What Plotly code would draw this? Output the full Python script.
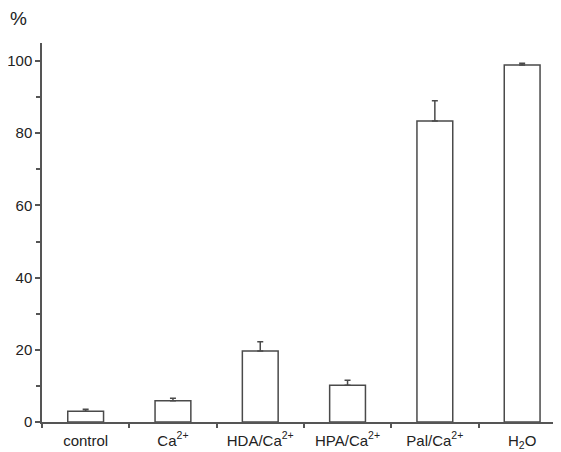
import plotly.graph_objects as go

categories = ["control", "Ca<sup>2+</sup>", "HDA/Ca<sup>2+</sup>", "HPA/Ca<sup>2+</sup>", "Pal/Ca<sup>2+</sup>", "H<sub>2</sub>O"]
values = [3.0, 5.9, 19.7, 10.2, 83.4, 98.9]
errors = [0.5, 0.7, 2.5, 1.4, 5.6, 0.5]
y_ticks = [0, 20, 40, 60, 80, 100]

W, H = 553, 444
L, R, T, B = 34, 0, 35, 30
PW, PH = W - L - R, H - T - B

fig = go.Figure()
fig.add_trace(go.Bar(
    x=categories, y=values, width=0.41,
    marker=dict(color="white", line=dict(color="#4a4a4a", width=1.5)),
    error_y=dict(type="data", symmetric=False, array=errors, arrayminus=[0]*len(errors),
                 color="#4a4a4a", thickness=1.5, width=3),
))
fig.update_layout(
    width=W, height=H,
    margin=dict(l=L, r=R, t=T, b=B),
    paper_bgcolor="white", plot_bgcolor="white",
    font=dict(family="Liberation Sans, Arial, sans-serif", size=15, color="#222"),
    showlegend=False,
    xaxis=dict(type="category", range=[-0.5, -0.5 + PW / 87.3], tickson="boundaries",
               ticks="outside", ticklen=4, tickcolor="#555", tickwidth=1.5,
               showline=True, linecolor="#555", linewidth=1.5, showgrid=False,
               tickfont=dict(size=15), zeroline=False, automargin=False,
               ticklabelstandoff=4),
    yaxis=dict(range=[0, 105], tickvals=y_ticks, ticks="outside", ticklen=5,
               tickcolor="#555", tickwidth=1.5, showline=True, linecolor="#555",
               linewidth=1.5, showgrid=False, zeroline=False, tickfont=dict(size=15),
               automargin=False,
               minor=dict(tickvals=[10, 30, 50, 70, 90], ticks="outside", ticklen=4,
                          tickcolor="#555", tickwidth=1.5, showgrid=False)),
    annotations=[dict(text="%", xref="paper", yref="paper",
                      x=(10 - L) / PW, y=(H - B - 10) / PH,
                      xanchor="center", yanchor="middle",
                      showarrow=False, font=dict(size=19, color="#222"))],
)
fig.write_html("out.html")
